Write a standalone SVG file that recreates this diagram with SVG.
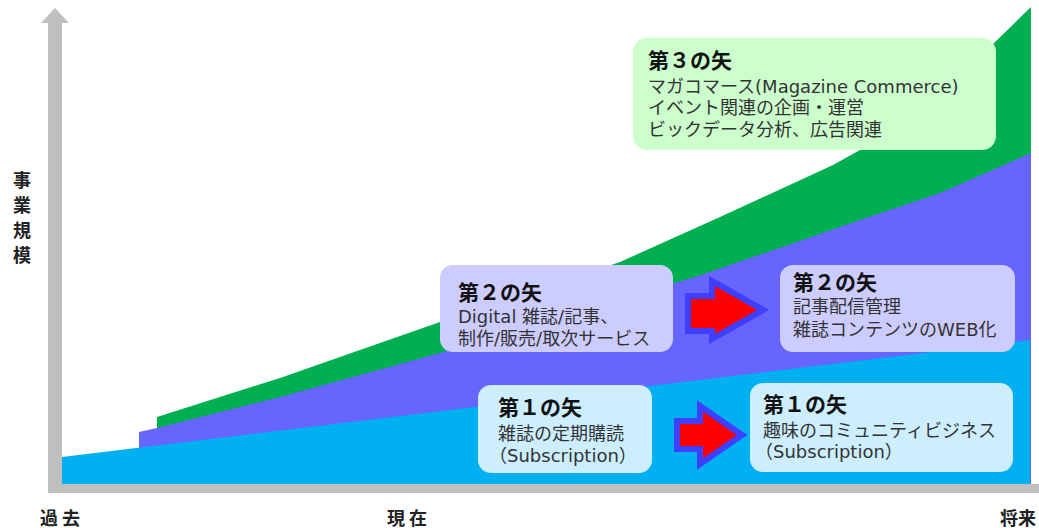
<svg xmlns="http://www.w3.org/2000/svg" width="1039" height="528" viewBox="0 0 1039 528">
<style>
.t{font-family:"DejaVu Sans","Noto Sans CJK JP",sans-serif;fill:#333;font-size:18px}
.h{font-family:"Noto Sans CJK JP",sans-serif;fill:#111;font-size:21px;font-weight:bold}
.ax{font-family:"Noto Sans CJK JP",sans-serif;fill:#222;font-size:18px;font-weight:bold}
.arr{fill:#FF0000;stroke:#3F3FFF;stroke-width:6;stroke-linejoin:miter}
</style>
<rect width="1039" height="528" fill="#FFFFFF"/>
<g id="areas">
<polygon fill="#00B050" points="157,484 157,417 280,378 440,322 620,262 720,217 833,165 860,150 992,45 1031,7 1031,484"/>
<polygon fill="#6666FF" points="139,484 139,432 157,428 280,397 440,353 698,276 860,220 940,193 1031,153 1031,484"/>
<polygon fill="#00B0F0" points="62,484 62,457 1030,340 1030,484"/>
</g>
<g id="axes" fill="#BFBFBF">
<rect x="48" y="22" width="14" height="471"/>
<rect x="48" y="484" width="991" height="9"/>
<polygon points="41,23 55,8 69,23"/>
</g>
<g id="axis-labels">
<text class="ax" x="22" y="187" text-anchor="middle">事</text>
<text class="ax" x="22" y="212" text-anchor="middle">業</text>
<text class="ax" x="22" y="237" text-anchor="middle">規</text>
<text class="ax" x="22" y="262" text-anchor="middle">模</text>
<text class="ax" x="40" y="525">過 去</text>
<text class="ax" x="387" y="525">現 在</text>
<text class="ax" x="1000" y="525">将来</text>
</g>
<g id="connectors">
<path class="arr" d="M688,296 L712,296 L712,281 L763,310 L712,339 L712,331 L688,331 Z"/>
<path class="arr" d="M677,421 L700,421 L700,406 L742,435 L700,464 L700,449 L677,449 Z"/>
</g>
<g id="box3">
<rect x="633" y="38" width="363" height="112" rx="14" fill="#CCFFCC"/>
<text class="h" x="648" y="68">第３の矢</text>
<text class="t" x="648" y="93">マガコマース(Magazine Commerce)</text>
<text class="t" x="648" y="114">イベント関連の企画・運営</text>
<text class="t" x="648" y="136">ビックデータ分析、広告関連</text>
</g>
<g id="box2a">
<rect x="440" y="265" width="233" height="87" rx="13" fill="#CCCCFF"/>
<text class="h" x="458" y="300">第２の矢</text>
<text class="t" x="458" y="323">Digital 雑誌/記事、</text>
<text class="t" x="458" y="345">制作/販売/取次サービス</text>
</g>
<g id="box2b">
<rect x="780" y="265" width="235" height="87" rx="13" fill="#CCCCFF"/>
<text class="h" x="793" y="290">第２の矢</text>
<text class="t" x="793" y="313">記事配信管理</text>
<text class="t" x="793" y="336">雑誌コンテンツのWEB化</text>
</g>
<g id="box1a">
<rect x="478" y="385" width="174" height="88" rx="13" fill="#CCEEFF"/>
<text class="h" x="498" y="415">第１の矢</text>
<text class="t" x="498" y="440">雑誌の定期購読</text>
<text class="t" x="489" y="462">（Subscription）</text>
</g>
<g id="box1b">
<rect x="750" y="383" width="263" height="89" rx="13" fill="#CCEEFF"/>
<text class="h" x="763" y="412">第１の矢</text>
<text class="t" x="763" y="437">趣味のコミュニティビジネス</text>
<text class="t" x="755" y="458">（Subscription）</text>
</g>
</svg>
